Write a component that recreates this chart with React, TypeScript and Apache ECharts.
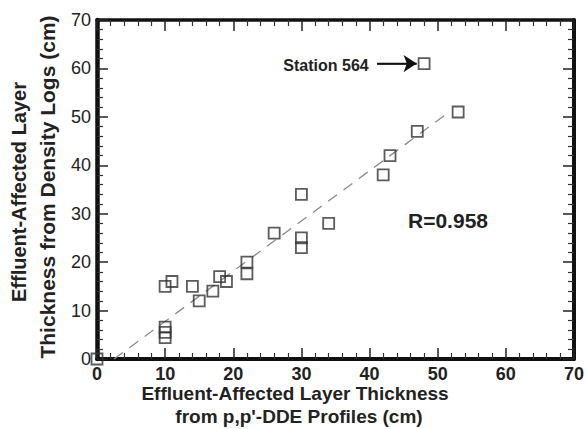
import React, { useEffect, useRef } from "react";
import * as echarts from "echarts";

const xValues = [0, 10, 10, 10, 10, 11, 14, 15, 17, 18, 19, 22, 22, 26, 30, 30, 30, 34, 42, 43, 47, 53, 48];
const yValues = [0, 6.6, 5.5, 4.4, 15, 16, 15, 12, 14, 17, 16, 20, 17.6, 26, 25, 23, 34, 28, 38, 42, 47, 51, 61];
const fitLine = [[2.5, 0], [51.5, 50.8]];
const arrowFrom = [41.1, 61];
const arrowTo = [46.9, 61];
const xTitle = ["Effluent-Affected Layer Thickness", "from p,p'-DDE Profiles (cm)"];
const yTitle = ["Effluent-Affected Layer", "Thickness from Density Logs (cm)"];
const stationLabel = "Station 564";
const rLabel = "R=0.958";

const FONT = "'Liberation Sans', Arial, Helvetica, sans-serif";

export default function App() {
  const ref = useRef<HTMLDivElement>(null);
  useEffect(() => {
    if (!ref.current) return;
    const chart = echarts.init(ref.current, null, { renderer: "svg" });
    const axisCommon = (show: boolean, bold: boolean, lw: number, margin: number) => ({
      type: "value",
      min: 0,
      max: 70,
      interval: 10,
      axisLine: { show: true, onZero: false, lineStyle: { color: "#111", width: lw } },
      axisTick: { show: true, inside: true, length: 11, lineStyle: { color: "#222", width: 1.5 } },
      minorTick: { show: true, splitNumber: 5, length: 6, lineStyle: { color: "#333", width: 1.2 } },
      splitLine: { show: false },
      minorSplitLine: { show: false },
      axisLabel: {
        show,
        color: "#222",
        fontFamily: FONT,
        fontSize: 18,
        lineHeight: 14,
        fontWeight: bold ? "bold" : "normal",
        margin,
      },
    });
    const points = xValues.map((x, i) => [x, yValues[i]]);
    chart.setOption({
      animation: false,
      backgroundColor: "#fff",
      grid: { left: 97, right: 11, top: 20, bottom: 70 },
      xAxis: [
        { ...axisCommon(true, true, 4, 8), position: "bottom" },
        { ...axisCommon(false, false, 3.5, 8), position: "top" },
      ],
      yAxis: [
        { ...axisCommon(true, false, 4.5, 6), position: "left" },
        { ...axisCommon(false, false, 4, 6), position: "right" },
      ],
      series: [
        {
          type: "line",
          data: fitLine,
          symbol: "none",
          silent: true,
          lineStyle: { color: "#8a8a8a", width: 1.3, type: [11, 8] },
          z: 1,
        },
        {
          type: "scatter",
          data: points,
          symbol: "rect",
          symbolSize: 11,
          clip: false,
          itemStyle: { color: "rgba(0,0,0,0)", borderColor: "#333", borderWidth: 1.8 },
          z: 3,
        },
        {
          type: "line",
          data: [arrowFrom, arrowTo],
          symbol: "none",
          silent: true,
          lineStyle: { color: "#111", width: 1.6 },
          z: 4,
          markLine: {
            silent: true,
            symbol: ["none", "arrow"],
            symbolSize: 13,
            label: { show: false },
            lineStyle: { color: "#111", width: 1.6, type: "solid" },
            data: [[{ coord: arrowFrom }, { coord: arrowTo }]],
          },
        },
      ],
      graphic: [
        {
          type: "text",
          x: 295,
          y: 393,
          style: { text: xTitle[0], font: `bold 19px ${FONT}`, lineHeight: 17, fill: "#222", align: "center", verticalAlign: "middle" },
        },
        {
          type: "text",
          x: 299,
          y: 416,
          style: { text: xTitle[1], font: `bold 19px ${FONT}`, lineHeight: 17, fill: "#222", align: "center", verticalAlign: "middle" },
        },
        {
          type: "text",
          x: 19,
          y: 192,
          rotation: Math.PI / 2,
          style: { text: yTitle[0], font: `bold 20px ${FONT}`, fill: "#222", align: "center", verticalAlign: "middle" },
        },
        {
          type: "text",
          x: 47,
          y: 187,
          rotation: Math.PI / 2,
          style: { text: yTitle[1], font: `bold 21px ${FONT}`, fill: "#222", align: "center", verticalAlign: "middle" },
        },
        {
          type: "text",
          x: 326,
          y: 65,
          style: { text: stationLabel, font: `bold 16px ${FONT}`, fill: "#222", align: "center", verticalAlign: "middle" },
        },
        {
          type: "text",
          x: 448,
          y: 220,
          style: { text: rLabel, font: `bold 21px ${FONT}`, fill: "#222", align: "center", verticalAlign: "middle" },
        },
      ],
    });
    return () => chart.dispose();
  }, []);
  return <div ref={ref} style={{ width: 587, height: 429, position: "absolute", left: 0, top: 0 }} />;
}
